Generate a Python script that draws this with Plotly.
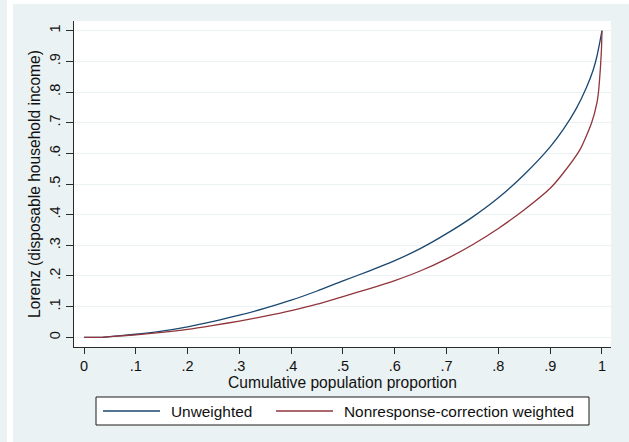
import plotly.graph_objects as go

# ---- data ----
pop_unweighted = [0, 0.035, 0.05, 0.1, 0.15, 0.2, 0.25, 0.3, 0.35, 0.4, 0.45, 0.5, 0.55, 0.6,
                  0.65, 0.7, 0.75, 0.8, 0.85, 0.9, 0.925, 0.95, 0.97, 0.983, 0.99, 0.997, 1.0]
lorenz_unweighted = [0, 0, 0.002, 0.010, 0.020, 0.034, 0.052, 0.072, 0.095, 0.121, 0.151, 0.184,
                     0.216, 0.250, 0.290, 0.338, 0.392, 0.455, 0.531, 0.621, 0.677, 0.745, 0.815,
                     0.872, 0.915, 0.973, 1.0]

pop_weighted = [0, 0.035, 0.05, 0.1, 0.15, 0.2, 0.25, 0.3, 0.35, 0.4, 0.45, 0.5, 0.55, 0.6,
                0.65, 0.7, 0.75, 0.8, 0.85, 0.9, 0.925, 0.9575, 0.98, 0.99, 0.993, 0.997, 0.999, 1.0]
lorenz_weighted = [0, 0, 0.002, 0.008, 0.016, 0.026, 0.039, 0.053, 0.069, 0.087, 0.108, 0.133,
                   0.158, 0.185, 0.217, 0.256, 0.302, 0.355, 0.416, 0.486, 0.535, 0.612, 0.700,
                   0.763, 0.796, 0.880, 0.940, 1.0]

series_names = ["Unweighted", "Nonresponse-correction weighted"]
series_colors = ["#1a476f", "#90353b"]

tick_vals = [0, 0.1, 0.2, 0.3, 0.4, 0.5, 0.6, 0.7, 0.8, 0.9, 1.0]
tick_text = ["0", ".1", ".2", ".3", ".4", ".5", ".6", ".7", ".8", ".9", "1"]

x_title = "Cumulative population proportion"
y_title = "Lorenz (disposable household income)"

# ---- layout geometry (pixels) ----
W, H = 629, 442
L, R, T, B = 74, 611, 21, 347
PW, PH = R - L, B - T


def px(xp):
    return (xp - L) / PW


def py(yp):
    return (B - yp) / PH


BG = "#eaf2f3"
FONT = "Arial, Liberation Sans, sans-serif"
TXT = "#111111"
AX = "#2a2a2a"

fig = go.Figure()
fig.add_trace(go.Scatter(x=pop_unweighted, y=lorenz_unweighted, mode="lines",
                         name=series_names[0],
                         line=dict(color=series_colors[0], width=1.3, shape="spline", smoothing=0.6)))
fig.add_trace(go.Scatter(x=pop_weighted, y=lorenz_weighted, mode="lines",
                         name=series_names[1],
                         line=dict(color=series_colors[1], width=1.3, shape="spline", smoothing=0.6)))

shapes = [
    # white strips of the outer frame
    dict(type="rect", xref="paper", yref="paper", x0=px(7), x1=px(13), y0=py(H + 5), y1=py(-5),
         fillcolor="white", line=dict(width=0), layer="below"),
    dict(type="rect", xref="paper", yref="paper", x0=px(13), x1=px(W + 5), y0=py(4), y1=py(-5),
         fillcolor="white", line=dict(width=0), layer="below"),
    # legend box
    dict(type="rect", xref="paper", yref="paper", x0=px(96), x1=px(589), y0=py(425), y1=py(397),
         fillcolor="white", line=dict(color="#1a1a1a", width=1)),
    dict(type="line", xref="paper", yref="paper", x0=px(103), x1=px(160), y0=py(411), y1=py(411),
         line=dict(color=series_colors[0], width=1.3)),
    dict(type="line", xref="paper", yref="paper", x0=px(276), x1=px(333), y0=py(411), y1=py(411),
         line=dict(color=series_colors[1], width=1.3)),
]

annotations = [
    dict(text=series_names[0], xref="paper", yref="paper", x=px(169), y=py(411),
         xanchor="left", yanchor="middle", showarrow=False, font=dict(size=15.4, color=TXT, family=FONT)),
    dict(text=series_names[1], xref="paper", yref="paper", x=px(342), y=py(411),
         xanchor="left", yanchor="middle", showarrow=False, font=dict(size=15.4, color=TXT, family=FONT)),
]

fig.update_layout(
    width=W, height=H,
    margin=dict(l=L, r=W - R, t=T, b=H - B, pad=0),
    paper_bgcolor=BG, plot_bgcolor="white",
    showlegend=False,
    font=dict(family=FONT, size=14, color=TXT),
    shapes=shapes, annotations=annotations,
    xaxis=dict(range=[-0.0193, 1.0174], tickvals=tick_vals, ticktext=tick_text,
               showgrid=False, zeroline=False, showline=True, linecolor=AX, linewidth=1,
               ticks="outside", ticklen=6, tickcolor=AX, tickfont=dict(size=14.5, color=TXT),
               title=dict(text=x_title, font=dict(size=15.6, color=TXT), standoff=0),
               automargin=False),
    yaxis=dict(range=[-0.0316, 1.0316], tickvals=tick_vals, ticktext=tick_text, tickangle=-90,
               showgrid=True, gridcolor=BG, gridwidth=1, zeroline=False, showline=True,
               linecolor=AX, linewidth=1, ticks="outside", ticklen=7, tickcolor=AX,
               tickfont=dict(size=14.5, color=TXT),
               title=dict(text=y_title, font=dict(size=15.6, color=TXT), standoff=2),
               automargin=False),
)

fig.write_html("out.html")
